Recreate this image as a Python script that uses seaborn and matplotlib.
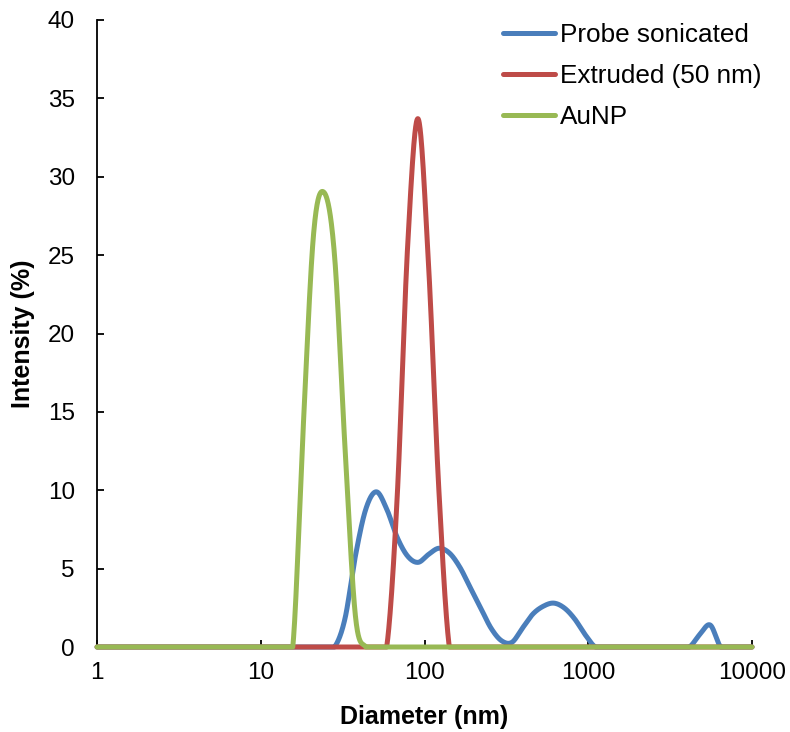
import numpy as np
import pandas as pd
import matplotlib
matplotlib.use("Agg")
import matplotlib.pyplot as plt
import seaborn as sns

# Size bins (nm)
diameter = [0.9649, 1.117, 1.294, 1.499, 1.736, 2.01, 2.328, 2.696, 3.122, 3.615,
            4.187, 4.849, 5.615, 6.503, 7.531, 8.721,
            10.1, 11.7, 13.54, 15.69, 18.17, 21.04, 24.36, 28.21, 32.67, 37.84,
            43.82, 50.75, 58.77, 68.06, 78.82, 91.28,
            105.7, 122.4, 141.8, 164.2, 190.1, 220.2, 255.0, 295.3, 342.0, 396.1,
            458.7, 531.2, 615.1, 712.4, 825.0, 955.4,
            1106, 1281, 1484, 1718, 1990, 2305, 2669, 3091, 3580, 4145,
            4801, 5560, 6439, 7456, 8635, 10000]

probe_sonicated = [0, 0, 0, 0, 0, 0, 0, 0, 0, 0,
                   0, 0, 0, 0, 0, 0,
                   0, 0, 0, 0, 0, 0, 0, 0, 1.8, 5.8,
                   8.8, 9.9, 8.8, 7.0, 5.8, 5.4,
                   5.9, 6.3, 6.0, 5.1, 3.8, 2.5, 1.2, 0.4, 0.3, 1.2,
                   2.1, 2.6, 2.8, 2.5, 1.8, 0.8,
                   0, 0, 0, 0, 0, 0, 0, 0, 0, 0,
                   0.8, 1.4, 0, 0, 0, 0]

extruded_50nm = [0, 0, 0, 0, 0, 0, 0, 0, 0, 0,
                 0, 0, 0, 0, 0, 0,
                 0, 0, 0, 0, 0, 0, 0, 0, 0, 0,
                 0, 0, 0, 9.5, 25.5, 33.7,
                 24.5, 10.0, 0, 0, 0, 0, 0, 0, 0, 0,
                 0, 0, 0, 0, 0, 0,
                 0, 0, 0, 0, 0, 0, 0, 0, 0, 0,
                 0, 0, 0, 0, 0, 0]

aunp = [0, 0, 0, 0, 0, 0, 0, 0, 0, 0,
        0, 0, 0, 0, 0, 0,
        0, 0, 0, 0, 14.0, 26.4, 29.0, 25.0, 12.8, 2.0,
        0, 0, 0, 0, 0, 0,
        0, 0, 0, 0, 0, 0, 0, 0, 0, 0,
        0, 0, 0, 0, 0, 0,
        0, 0, 0, 0, 0, 0, 0, 0, 0, 0,
        0, 0, 0, 0, 0, 0]

series_names = ["Probe sonicated", "Extruded (50 nm)", "AuNP"]
series_values = [probe_sonicated, extruded_50nm, aunp]
colors = ["#4A7EBB", "#BE4B48", "#98B954"]


def smooth(xs, ys, n=40):
    """Excel-like smoothed line (Catmull-Rom / Bezier) in log-x space."""
    u = np.log10(np.asarray(xs, float))
    y = np.asarray(ys, float)
    P = np.column_stack([u, y])
    Pp = np.vstack([P[0], P, P[-1]])
    out = []
    t = np.linspace(0, 1, n, endpoint=False)[:, None]
    for i in range(len(P) - 1):
        p0, p1, p2, p3 = Pp[i], Pp[i + 1], Pp[i + 2], Pp[i + 3]
        b0 = p1
        b1 = p1 + (p2 - p0) / 6
        b2 = p2 - (p3 - p1) / 6
        b3 = p2
        seg = ((1 - t) ** 3) * b0 + 3 * ((1 - t) ** 2) * t * b1 + 3 * (1 - t) * t ** 2 * b2 + t ** 3 * b3
        out.append(seg)
    out.append(P[-1][None, :])
    out = np.vstack(out)
    xx = 10 ** out[:, 0]
    yy = np.maximum(out[:, 1], 0)
    m = (xx >= 1) & (xx <= 10000)
    return xx[m], yy[m]


frames = []
for name, vals in zip(series_names, series_values):
    xx, yy = smooth(diameter, vals)
    frames.append(pd.DataFrame({"Diameter": xx, "Intensity": yy, "Sample": name}))
df = pd.concat(frames, ignore_index=True)

sns.set_style("white")
plt.rcParams["font.family"] = ["Liberation Sans", "DejaVu Sans"]
plt.rcParams["text.color"] = "black"
plt.rcParams["axes.labelcolor"] = "black"
plt.rcParams["xtick.color"] = "black"
plt.rcParams["ytick.color"] = "black"

fig = plt.figure(figsize=(7.9, 7.32), dpi=100)
ax = fig.add_axes([97 / 790, 1 - 647 / 732, (752 - 97) / 790, (647 - 20) / 732])

LW = 3.6
sns.lineplot(data=df, x="Diameter", y="Intensity", hue="Sample", hue_order=series_names,
             palette=colors, sort=False, estimator=None,
             linewidth=LW, ax=ax, legend=True, zorder=3)
for line in ax.get_lines():
    line.set_clip_on(False)
    line.set_zorder(3)
    line.set_solid_capstyle("round")

ax.set_xscale("log")
ax.set_xlim(1, 10000)
ax.set_ylim(0, 40)
ax.set_xticks([1, 10, 100, 1000, 10000])
ax.set_xticklabels(["1", "10", "100", "1000", "10000"])
ax.set_yticks(np.arange(0, 41, 5))
ax.xaxis.set_minor_locator(matplotlib.ticker.NullLocator())

for s in ["top", "right"]:
    ax.spines[s].set_visible(False)
for s in ["left", "bottom"]:
    ax.spines[s].set_color("black")
    ax.spines[s].set_linewidth(1.3)
    ax.spines[s].set_zorder(2)

ax.tick_params(axis="both", direction="in", length=5, width=1.3, colors="black",
               labelsize=17.5, labelcolor="black")
ax.tick_params(axis="x", pad=11, bottom=True)
ax.tick_params(axis="y", pad=16, left=True)

ax.set_xlabel("Diameter (nm)", fontsize=18, fontweight="bold", color="black")
ax.set_ylabel("Intensity (%)", fontsize=18, fontweight="bold", color="black")
ax.xaxis.set_label_coords(0.5, -0.093)
ax.yaxis.set_label_coords(-0.095, 0.5)

handles, labels = ax.get_legend_handles_labels()
leg = ax.legend(handles, labels, loc="upper left", bbox_to_anchor=(503 / 790, 1 - 23 / 732),
                bbox_transform=fig.transFigure, frameon=False, fontsize=18.8,
                handlelength=2.0, handletextpad=0.2, labelspacing=0.66,
                borderpad=0, borderaxespad=0)
for txt in leg.get_texts():
    txt.set_color("black")
for h in leg.get_lines():
    h.set_linewidth(LW)
    h.set_solid_capstyle("round")

fig.savefig("out.png", dpi=100)
